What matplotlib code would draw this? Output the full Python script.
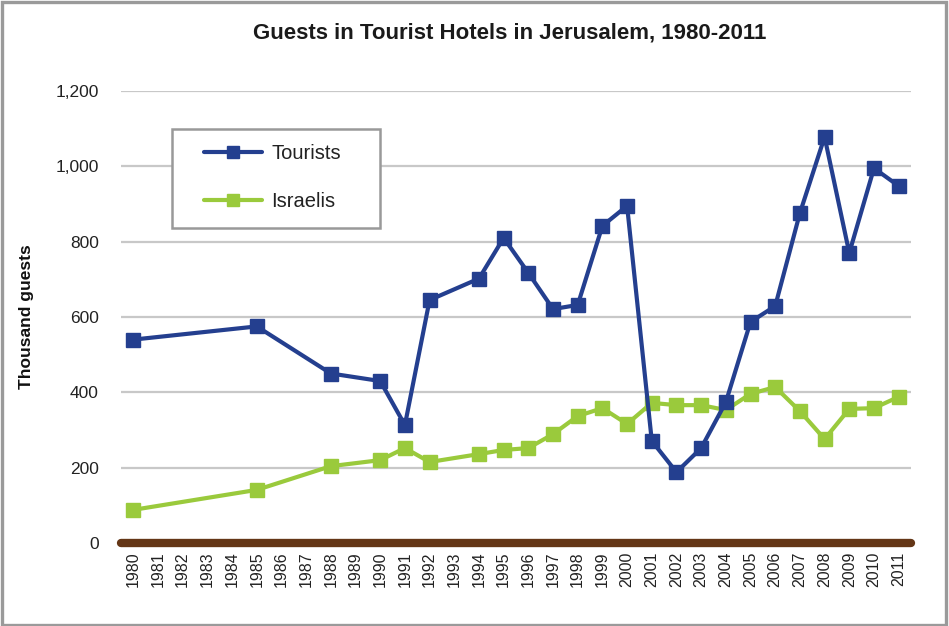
import matplotlib
matplotlib.use("Agg")
import matplotlib.pyplot as plt
from matplotlib.patches import Rectangle
from matplotlib.lines import Line2D

plt.rcParams['font.family'] = ['Liberation Sans', 'DejaVu Sans']

# Category axis: every year 1980-2011
years = [str(y) for y in range(1980, 2012)]

# Years with observations
obs_years = [1980, 1985, 1988, 1990, 1991, 1992, 1994, 1995, 1996, 1997, 1998,
             1999, 2000, 2001, 2002, 2003, 2004, 2005, 2006, 2007, 2008, 2009,
             2010, 2011]

# Thousand guests
tourists = [540, 575, 450, 430, 313, 645, 702, 810, 717, 621, 632,
            842, 895, 271, 188, 252, 374, 587, 629, 876, 1078, 770,
            995, 948]
israelis = [88, 141, 204, 220, 252, 215, 236, 247, 252, 289, 337,
            358, 316, 372, 366, 366, 353, 396, 414, 350, 276, 356,
            358, 388]

yticks = [0, 200, 400, 600, 800, 1000, 1200]
ytick_labels = ['0', '200', '400', '600', '800', '1,000', '1,200']

BLUE = '#243F8F'
GREEN = '#9ACA3C'

W, H = 949, 626
fig = plt.figure(figsize=(W / 100, H / 100), dpi=100)
fig.patch.set_facecolor('white')

ax = fig.add_axes([121 / W, 1 - 543 / H, (911 - 121) / W, (543 - 91) / H])

xpos = [years.index(str(y)) for y in obs_years]

ax.plot(xpos, tourists, color=BLUE, lw=3.0, marker='s', ms=10,
        solid_joinstyle='round', solid_capstyle='round', zorder=4)
ax.plot(xpos, israelis, color=GREEN, lw=3.0, marker='s', ms=10,
        solid_joinstyle='round', solid_capstyle='round', zorder=3)

ax.set_xlim(-0.5, len(years) - 0.5)
ax.set_ylim(0, 1200)
ax.set_yticks(yticks)
ax.set_yticklabels(ytick_labels)
ax.set_xticks(range(len(years)))
ax.set_xticklabels(years, rotation=90)

for v in yticks[1:]:
    ax.axhline(v, color='#c8c8c8', lw=1.6, zorder=1)
ax.axhline(0, color='#643616', lw=6, solid_capstyle='round', zorder=5,
           clip_on=False)

for s in ax.spines.values():
    s.set_visible(False)
ax.tick_params(axis='both', length=0)
ax.tick_params(axis='y', labelsize=12.5, pad=16, labelcolor='#222222')
ax.tick_params(axis='x', labelsize=11.5, pad=6, labelcolor='#222222')

ax.set_ylabel('Thousand guests', fontsize=12.5, fontweight='bold',
              color='#111111', va='center')
ax.yaxis.set_label_coords((26 - 121) / (911 - 121), (543 - 317) / (543 - 91))

fig.text(510 / W, 1 - 33 / H, 'Guests in Tourist Hotels in Jerusalem, 1980-2011',
         ha='center', va='center', fontsize=16, fontweight='bold',
         color='#1a1a1a')

# Legend frame
fig.patches.append(Rectangle((172 / W, 1 - 228 / H), 208 / W, 99 / H,
                             transform=fig.transFigure, facecolor='white',
                             edgecolor='#999999', lw=1.8, zorder=6))
handles = [Line2D([], [], color=BLUE, lw=3.0, marker='s', ms=9,
                  solid_capstyle='round'),
           Line2D([], [], color=GREEN, lw=3.0, marker='s', ms=9,
                  solid_capstyle='round')]
leg = fig.legend(handles, ['Tourists', 'Israelis'], loc='upper left',
                 bbox_to_anchor=(204 / W, 1 - 144 / H), frameon=False,
                 fontsize=14.5, handlelength=2.9, handletextpad=0.45,
                 labelspacing=1.45, borderpad=0, borderaxespad=0)
leg.set_zorder(7)
for t in leg.get_texts():
    t.set_color('#222222')

# Outer border
fig.patches.append(Rectangle((1.5 / W, 1.5 / H), (W - 4.5) / W, (H - 3.5) / H,
                             transform=fig.transFigure, fill=False,
                             edgecolor='#9a9a9a', lw=2.4, zorder=10))

fig.savefig('out.png', dpi=100)
